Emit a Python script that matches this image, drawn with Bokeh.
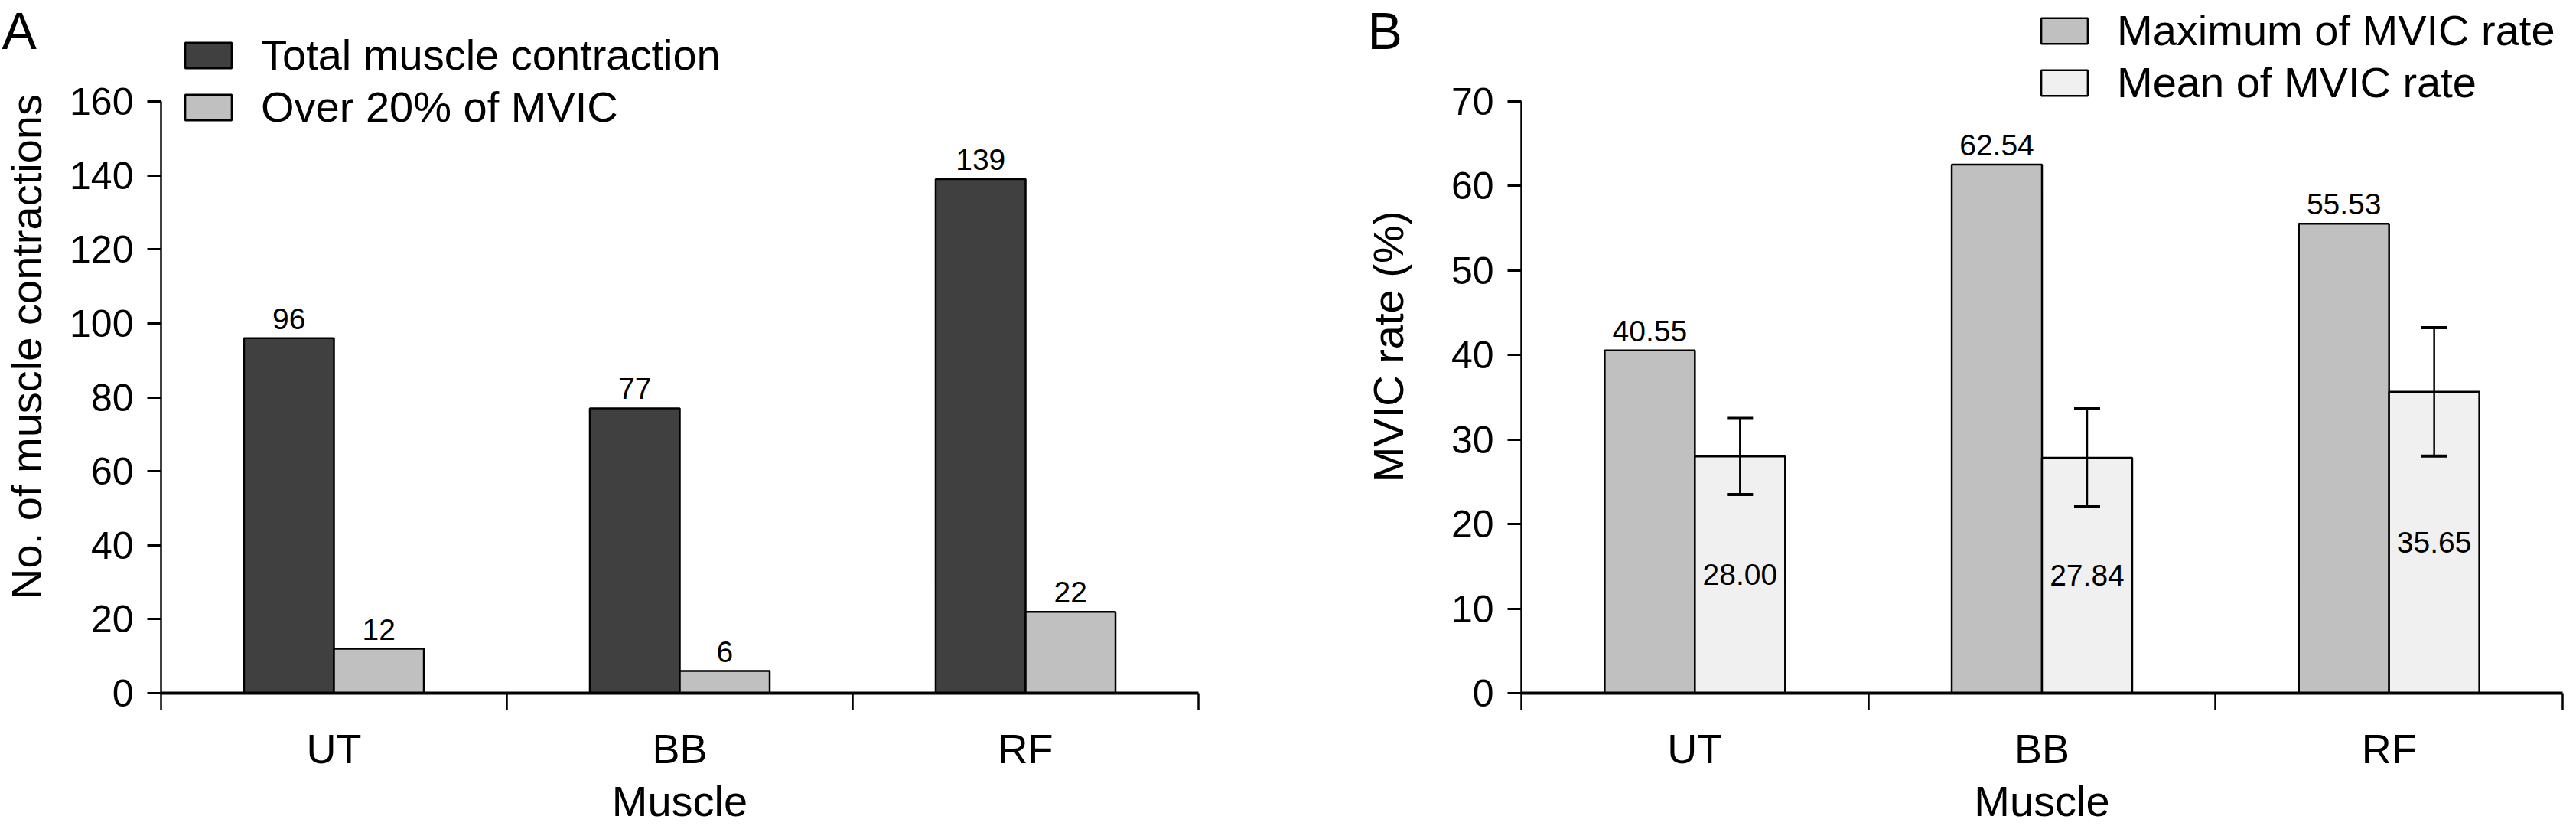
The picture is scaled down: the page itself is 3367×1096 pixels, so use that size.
from bokeh.plotting import figure
from bokeh.models import (ColumnDataSource, Range1d, LinearAxis, FixedTicker, Legend,
                          LegendItem, LabelSet, Whisker, TeeHead, Title)
from bokeh.transform import dodge
from bokeh.layouts import row
from bokeh.embed import file_html
from bokeh.resources import INLINE
from bokeh.core.properties import value

# ---------------- data ----------------
muscles = ["UT", "BB", "RF"]
total_contraction = [96, 77, 139]
over_20_mvic = [12, 6, 22]
max_mvic_rate = [40.55, 62.54, 55.53]
mean_mvic_rate = [28.00, 27.84, 35.65]
mean_mvic_sd = [4.5, 5.8, 7.6]
a_yticks = [0, 20, 40, 60, 80, 100, 120, 140, 160]
b_yticks = [0, 10, 20, 30, 40, 50, 60, 70]

FONT = "Liberation Sans"
DARK = "#404040"
MID = "#c0c0c0"
LIGHT = "#f0f0f0"

H = 1080
FRAME_TOP = 0          # frame reaches the top so legends are not clipped
AXIS_TOP = 132         # pixel row of the highest tick
FRAME_BOTTOM = 905
OFF = 0.13
BW = 0.26

NCAT = len(muscles)
cat_center = [i + 0.5 for i in range(NCAT)]   # slot centres on the category scale


def base_fig(width, left, right, ymax, yticks, ytitle, title_standoff, tag, tag_offset):
    ytop = ymax * (FRAME_BOTTOM - FRAME_TOP) / (FRAME_BOTTOM - AXIS_TOP)
    p = figure(width=width, height=H,
               x_range=Range1d(0, NCAT),
               y_range=Range1d(0, ytop),
               x_axis_location=None,
               output_backend="svg", toolbar_location=None,
               min_border_left=left, min_border_right=right,
               min_border_top=FRAME_TOP, min_border_bottom=H - FRAME_BOTTOM)
    p.outline_line_color = None
    p.background_fill_color = "white"
    p.border_fill_color = "white"
    p.grid.grid_line_color = None

    p.title = Title(text=tag, align="left", offset=tag_offset, standoff=-154,
                    vertical_align="bottom", text_font=FONT, text_font_size="68px",
                    text_font_style="normal", text_color="black")

    yax = p.yaxis[0]
    yax.bounds = (0, ymax)
    yax.ticker = FixedTicker(ticks=yticks, minor_ticks=[])
    yax.major_tick_out = 18
    yax.major_tick_in = 0
    yax.minor_tick_out = 0
    yax.minor_tick_in = 0
    yax.axis_line_width = 2.5
    yax.axis_line_color = "black"
    yax.major_tick_line_width = 3
    yax.major_tick_line_color = "black"
    yax.major_label_text_font = FONT
    yax.major_label_text_font_size = "50px"
    yax.major_label_text_color = "black"
    yax.major_label_standoff = 18
    yax.axis_label = ytitle
    yax.axis_label_text_font = FONT
    yax.axis_label_text_font_size = "56px"
    yax.axis_label_text_font_style = "normal"
    yax.axis_label_text_color = "black"
    yax.axis_label_standoff = title_standoff

    bounds = list(range(NCAT + 1))
    sep = LinearAxis(ticker=FixedTicker(ticks=bounds, minor_ticks=[]),
                     major_tick_out=22, major_tick_in=0,
                     minor_tick_out=0, minor_tick_in=0,
                     axis_line_width=4, axis_line_color="black",
                     major_tick_line_width=2.5, major_tick_line_color="black",
                     major_label_text_font_size="0px",
                     major_label_overrides={b: "" for b in bounds},
                     major_label_standoff=0)
    p.add_layout(sep, "below")
    lab = LinearAxis(ticker=FixedTicker(ticks=cat_center, minor_ticks=[]),
                     major_label_overrides={c: m for c, m in zip(cat_center, muscles)},
                     axis_line_color=None, major_tick_line_color=None,
                     major_tick_out=0, major_tick_in=0,
                     minor_tick_out=0, minor_tick_in=0,
                     major_label_text_font=FONT, major_label_text_font_size="54px",
                     major_label_text_color="black",
                     major_label_standoff=20,
                     axis_label="Muscle", axis_label_text_font=FONT,
                     axis_label_text_font_size="56px",
                     axis_label_text_font_style="normal",
                     axis_label_text_color="black",
                     axis_label_standoff=4)
    p.add_layout(lab, "below")
    return p


def make_legend(items, left, top_px):
    # top_px: pixel row (from figure top) of the legend's top edge
    n = len(items)
    item_h, gap = 64, 3
    bottom_px = top_px + n * item_h + (n - 1) * gap
    return Legend(items=items, location=(left, FRAME_BOTTOM - bottom_px),
                  glyph_width=76, glyph_height=42, label_height=42,
                  label_standoff=31, label_text_font=FONT, label_text_font_size="56px",
                  label_text_color="black", spacing=gap,
                  padding=0, margin=0, border_line_alpha=0, background_fill_alpha=0)


def value_labels(p, src, xoff, yfield, tfield, above=True):
    common = dict(x=dodge("cat", xoff), y=yfield, text=tfield, source=src,
                  text_font=value(FONT), text_font_size="39px", text_align="center",
                  text_color="black")
    if above:
        ls = LabelSet(text_baseline="bottom", y_offset=12, **common)
    else:
        ls = LabelSet(text_baseline="middle", **common)
    p.add_layout(ls)


# ---------------- panel A ----------------
srcA = ColumnDataSource(dict(cat=cat_center, total=total_contraction, over=over_20_mvic,
                             total_t=[str(v) for v in total_contraction],
                             over_t=[str(v) for v in over_20_mvic]))
pA = base_fig(1692, 208, 1692 - 1566, 160, a_yticks, "No. of muscle contractions", 22,
              "A", -208)
rA1 = pA.vbar(x=dodge("cat", -OFF), top="total", width=BW, source=srcA,
              fill_color=DARK, line_color="black", line_width=2.5)
rA2 = pA.vbar(x=dodge("cat", OFF), top="over", width=BW, source=srcA,
              fill_color=MID, line_color="black", line_width=2.5)
value_labels(pA, srcA, -OFF, "total", "total_t")
value_labels(pA, srcA, OFF, "over", "over_t")
pA.add_layout(make_legend([LegendItem(label="Total muscle contraction", renderers=[rA1]),
                           LegendItem(label="Over 20% of MVIC", renderers=[rA2])],
                          24, 41), "center")

# ---------------- panel B ----------------
srcB = ColumnDataSource(dict(cat=cat_center, mx=max_mvic_rate, mean=mean_mvic_rate,
                             half=[v / 2 for v in mean_mvic_rate],
                             upper=[m + s for m, s in zip(mean_mvic_rate, mean_mvic_sd)],
                             lower=[m - s for m, s in zip(mean_mvic_rate, mean_mvic_sd)],
                             mx_t=["%.2f" % v for v in max_mvic_rate],
                             mean_t=["%.2f" % v for v in mean_mvic_rate]))
pB = base_fig(1659, 296, 2, 70, b_yticks, "MVIC rate (%)", 48, "B", -201)
rB1 = pB.vbar(x=dodge("cat", -OFF), top="mx", width=BW, source=srcB,
              fill_color=MID, line_color="black", line_width=2.5)
rB2 = pB.vbar(x=dodge("cat", OFF), top="mean", width=BW, source=srcB,
              fill_color=LIGHT, line_color="black", line_width=2.5)
wh = Whisker(base=dodge("cat", OFF), upper="upper", lower="lower",
             source=srcB, line_width=2.5, line_color="black", level="annotation",
             upper_head=TeeHead(size=34, line_width=4, line_color="black"),
             lower_head=TeeHead(size=34, line_width=4, line_color="black"))
pB.add_layout(wh)
value_labels(pB, srcB, -OFF, "mx", "mx_t")
value_labels(pB, srcB, OFF, "half", "mean_t", above=False)
pB.add_layout(make_legend([LegendItem(label="Maximum of MVIC rate", renderers=[rB1]),
                           LegendItem(label="Mean of MVIC rate", renderers=[rB2])],
                          672, 9), "center")

layout = row(pA, pB)
open("out.html", "w").write(file_html(layout, INLINE))
